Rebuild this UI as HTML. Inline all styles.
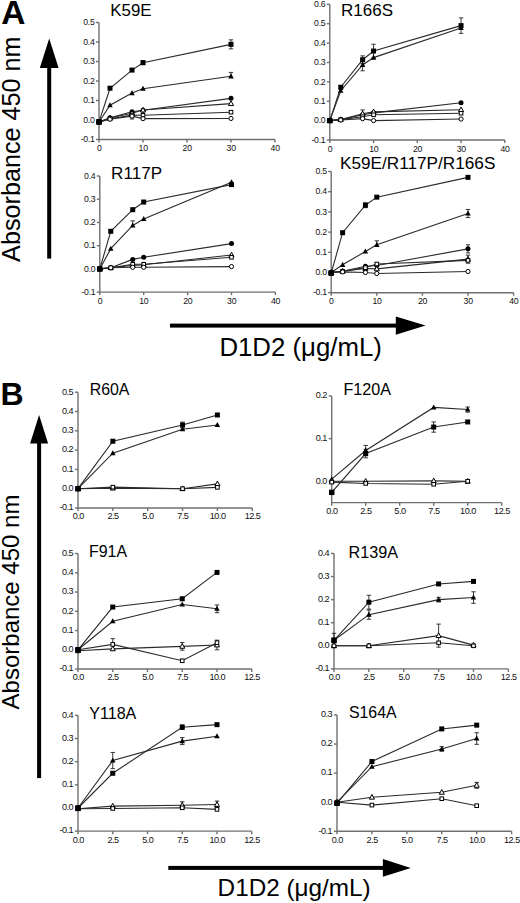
<!DOCTYPE html>
<html><head><meta charset="utf-8"><title>Figure</title>
<style>
html,body{margin:0;padding:0;background:#fff;}
body{width:520px;height:903px;overflow:hidden;}
svg{display:block;font-family:"Liberation Sans", sans-serif;}
</style></head>
<body>
<svg width="520" height="903" viewBox="0 0 520 903">
<rect width="520" height="903" fill="#fff"/>
<g stroke="#707070" stroke-width="1.4" fill="none">
<path d="M99,22.5 V139.5 H275"/>
<path d="M96,139.5 H99"/>
<path d="M96,120 H99"/>
<path d="M96,100.5 H99"/>
<path d="M96,81 H99"/>
<path d="M96,61.5 H99"/>
<path d="M96,42 H99"/>
<path d="M96,22.5 H99"/>
<path d="M99,139.5 V142.5"/>
<path d="M143,139.5 V142.5"/>
<path d="M187,139.5 V142.5"/>
<path d="M231,139.5 V142.5"/>
<path d="M275,139.5 V142.5"/>
</g>
<g fill="#111" font-size="8.7" letter-spacing="-0.3">
<text x="94.5" y="142.2" text-anchor="end">-0.1</text>
<text x="94.5" y="122.7" text-anchor="end">0.0</text>
<text x="94.5" y="103.2" text-anchor="end">0.1</text>
<text x="94.5" y="83.7" text-anchor="end">0.2</text>
<text x="94.5" y="64.2" text-anchor="end">0.3</text>
<text x="94.5" y="44.7" text-anchor="end">0.4</text>
<text x="94.5" y="25.2" text-anchor="end">0.5</text>
<text x="99.15" y="151.2" text-anchor="middle">0</text>
<text x="143.15" y="151.2" text-anchor="middle">10</text>
<text x="187.15" y="151.2" text-anchor="middle">20</text>
<text x="231.15" y="151.2" text-anchor="middle">30</text>
<text x="275.15" y="151.2" text-anchor="middle">40</text>
</g>
<text x="110.3" y="16.2" font-size="16.9" text-anchor="start" font-weight="normal" >K59E</text>
<polyline points="99,121.95 110,88.22 132,70.08 143,62.67 231,44.34" fill="none" stroke="#2a2a2a" stroke-width="1.1"/>
<polyline points="99,121.95 110,105.18 132,93.09 143,88.8 231,76.32" fill="none" stroke="#2a2a2a" stroke-width="1.1"/>
<polyline points="99,121.95 110,117.66 132,111.81 143,110.25 231,98.36" fill="none" stroke="#2a2a2a" stroke-width="1.1"/>
<polyline points="99,121.95 110,118.05 132,113.17 143,110.06 231,103.62" fill="none" stroke="#2a2a2a" stroke-width="1.1"/>
<polyline points="99,121.95 110,118.83 132,115.12 143,115.32 231,112.2" fill="none" stroke="#2a2a2a" stroke-width="1.1"/>
<polyline points="99,121.95 110,119.22 132,116.1 143,118.64 231,118.44" fill="none" stroke="#2a2a2a" stroke-width="1.1"/>
<path d="M143,60.72 V64.62 M140.8,60.72 H145.2 M140.8,64.62 H145.2" stroke="#222" stroke-width="0.9" fill="none"/>
<path d="M231,39.85 V48.83 M228.8,39.85 H233.2 M228.8,48.83 H233.2" stroke="#222" stroke-width="0.9" fill="none"/>
<path d="M231,72.42 V76.32 M228.8,72.42 H233.2" stroke="#222" stroke-width="0.9" fill="none"/>
<path d="M132,113.17 V119.03 M129.8,113.17 H134.2 M129.8,119.03 H134.2" stroke="#222" stroke-width="0.9" fill="none"/>
<circle cx="99" cy="121.95" r="2.5" fill="#000"/>
<circle cx="110" cy="117.66" r="2.5" fill="#000"/>
<circle cx="132" cy="111.81" r="2.5" fill="#000"/>
<circle cx="143" cy="110.25" r="2.5" fill="#000"/>
<circle cx="231" cy="98.36" r="2.5" fill="#000"/>
<polygon points="99,118.91 101.74,124.01 96.26,124.01" fill="#000"/>
<polygon points="110,102.14 112.74,107.24 107.26,107.24" fill="#000"/>
<polygon points="132,90.05 134.74,95.15 129.26,95.15" fill="#000"/>
<polygon points="143,85.76 145.74,90.86 140.26,90.86" fill="#000"/>
<polygon points="231,73.28 233.74,78.38 228.26,78.38" fill="#000"/>
<rect x="96.5" y="119.45" width="5" height="5" fill="#000"/>
<rect x="107.5" y="85.72" width="5" height="5" fill="#000"/>
<rect x="129.5" y="67.58" width="5" height="5" fill="#000"/>
<rect x="140.5" y="60.17" width="5" height="5" fill="#000"/>
<rect x="228.5" y="41.84" width="5" height="5" fill="#000"/>
<polygon points="99,119.17 101.53,123.87 96.47,123.87" fill="#fff" stroke="#000" stroke-width="1"/>
<polygon points="110,115.27 112.53,119.97 107.47,119.97" fill="#fff" stroke="#000" stroke-width="1"/>
<polygon points="132,110.39 134.53,115.1 129.47,115.1" fill="#fff" stroke="#000" stroke-width="1"/>
<polygon points="143,107.27 145.53,111.98 140.47,111.98" fill="#fff" stroke="#000" stroke-width="1"/>
<polygon points="231,100.84 233.53,105.54 228.47,105.54" fill="#fff" stroke="#000" stroke-width="1"/>
<rect x="97.2" y="120.15" width="3.6" height="3.6" fill="#fff" stroke="#000" stroke-width="1"/>
<rect x="108.2" y="117.03" width="3.6" height="3.6" fill="#fff" stroke="#000" stroke-width="1"/>
<rect x="130.2" y="113.33" width="3.6" height="3.6" fill="#fff" stroke="#000" stroke-width="1"/>
<rect x="141.2" y="113.52" width="3.6" height="3.6" fill="#fff" stroke="#000" stroke-width="1"/>
<rect x="229.2" y="110.4" width="3.6" height="3.6" fill="#fff" stroke="#000" stroke-width="1"/>
<circle cx="99" cy="121.95" r="2.1" fill="#fff" stroke="#000" stroke-width="1"/>
<circle cx="110" cy="119.22" r="2.1" fill="#fff" stroke="#000" stroke-width="1"/>
<circle cx="132" cy="116.1" r="2.1" fill="#fff" stroke="#000" stroke-width="1"/>
<circle cx="143" cy="118.64" r="2.1" fill="#fff" stroke="#000" stroke-width="1"/>
<circle cx="231" cy="118.44" r="2.1" fill="#fff" stroke="#000" stroke-width="1"/>
<rect x="96.35" y="119.3" width="5.3" height="5.3" fill="#000"/>
<g stroke="#707070" stroke-width="1.4" fill="none">
<path d="M329.8,4.32 V139.98 H504.8"/>
<path d="M326.8,139.98 H329.8"/>
<path d="M326.8,120.6 H329.8"/>
<path d="M326.8,101.22 H329.8"/>
<path d="M326.8,81.84 H329.8"/>
<path d="M326.8,62.46 H329.8"/>
<path d="M326.8,43.08 H329.8"/>
<path d="M326.8,23.7 H329.8"/>
<path d="M326.8,4.32 H329.8"/>
<path d="M329.8,139.98 V142.98"/>
<path d="M373.55,139.98 V142.98"/>
<path d="M417.3,139.98 V142.98"/>
<path d="M461.05,139.98 V142.98"/>
<path d="M504.8,139.98 V142.98"/>
</g>
<g fill="#111" font-size="8.7" letter-spacing="-0.3">
<text x="325.3" y="142.68" text-anchor="end">-0.1</text>
<text x="325.3" y="123.3" text-anchor="end">0.0</text>
<text x="325.3" y="103.92" text-anchor="end">0.1</text>
<text x="325.3" y="84.54" text-anchor="end">0.2</text>
<text x="325.3" y="65.16" text-anchor="end">0.3</text>
<text x="325.3" y="45.78" text-anchor="end">0.4</text>
<text x="325.3" y="26.4" text-anchor="end">0.5</text>
<text x="325.3" y="7.02" text-anchor="end">0.6</text>
<text x="329.95" y="151.68" text-anchor="middle">0</text>
<text x="373.7" y="151.68" text-anchor="middle">10</text>
<text x="417.45" y="151.68" text-anchor="middle">20</text>
<text x="461.2" y="151.68" text-anchor="middle">30</text>
<text x="504.95" y="151.68" text-anchor="middle">40</text>
</g>
<text x="341.1" y="15.5" font-size="17.0" text-anchor="start" font-weight="normal" >R166S</text>
<polyline points="329.8,120.6 340.74,87.27 362.61,59.75 373.55,51.03 461.05,25.64" fill="none" stroke="#2a2a2a" stroke-width="1.1"/>
<polyline points="329.8,120.6 340.74,90.75 362.61,64.98 373.55,57.61 461.05,27.96" fill="none" stroke="#2a2a2a" stroke-width="1.1"/>
<polyline points="329.8,120.6 340.74,119.63 362.61,114.79 373.55,112.85 461.05,102.77" fill="none" stroke="#2a2a2a" stroke-width="1.1"/>
<polyline points="329.8,120.6 340.74,119.63 362.61,113.82 373.55,111.88 461.05,109.75" fill="none" stroke="#2a2a2a" stroke-width="1.1"/>
<polyline points="329.8,120.6 340.74,119.63 362.61,116.72 373.55,114.79 461.05,113.24" fill="none" stroke="#2a2a2a" stroke-width="1.1"/>
<polyline points="329.8,120.6 340.74,120.02 362.61,118.66 373.55,120.6 461.05,119.05" fill="none" stroke="#2a2a2a" stroke-width="1.1"/>
<path d="M362.61,55.87 V63.62 M360.41,55.87 H364.81 M360.41,63.62 H364.81" stroke="#222" stroke-width="0.9" fill="none"/>
<path d="M373.55,44.24 V57.81 M371.35,44.24 H375.75 M371.35,57.81 H375.75" stroke="#222" stroke-width="0.9" fill="none"/>
<path d="M461.05,17.89 V33.39 M458.85,17.89 H463.25 M458.85,33.39 H463.25" stroke="#222" stroke-width="0.9" fill="none"/>
<path d="M362.61,59.17 V70.79 M360.41,59.17 H364.81 M360.41,70.79 H364.81" stroke="#222" stroke-width="0.9" fill="none"/>
<path d="M362.61,109.94 V117.69 M360.41,109.94 H364.81 M360.41,117.69 H364.81" stroke="#222" stroke-width="0.9" fill="none"/>
<circle cx="329.8" cy="120.6" r="2.5" fill="#000"/>
<circle cx="340.74" cy="119.63" r="2.5" fill="#000"/>
<circle cx="362.61" cy="114.79" r="2.5" fill="#000"/>
<circle cx="373.55" cy="112.85" r="2.5" fill="#000"/>
<circle cx="461.05" cy="102.77" r="2.5" fill="#000"/>
<polygon points="329.8,117.56 332.54,122.66 327.06,122.66" fill="#000"/>
<polygon points="340.74,87.72 343.48,92.81 337.99,92.81" fill="#000"/>
<polygon points="362.61,61.94 365.36,67.04 359.87,67.04" fill="#000"/>
<polygon points="373.55,54.58 376.29,59.67 370.81,59.67" fill="#000"/>
<polygon points="461.05,24.93 463.79,30.02 458.31,30.02" fill="#000"/>
<rect x="327.3" y="118.1" width="5" height="5" fill="#000"/>
<rect x="338.24" y="84.77" width="5" height="5" fill="#000"/>
<rect x="360.11" y="57.25" width="5" height="5" fill="#000"/>
<rect x="371.05" y="48.53" width="5" height="5" fill="#000"/>
<rect x="458.55" y="23.14" width="5" height="5" fill="#000"/>
<polygon points="329.8,117.82 332.33,122.52 327.27,122.52" fill="#fff" stroke="#000" stroke-width="1"/>
<polygon points="340.74,116.85 343.27,121.55 338.21,121.55" fill="#fff" stroke="#000" stroke-width="1"/>
<polygon points="362.61,111.03 365.14,115.74 360.08,115.74" fill="#fff" stroke="#000" stroke-width="1"/>
<polygon points="373.55,109.1 376.08,113.8 371.02,113.8" fill="#fff" stroke="#000" stroke-width="1"/>
<polygon points="461.05,106.96 463.58,111.67 458.52,111.67" fill="#fff" stroke="#000" stroke-width="1"/>
<rect x="328" y="118.8" width="3.6" height="3.6" fill="#fff" stroke="#000" stroke-width="1"/>
<rect x="338.94" y="117.83" width="3.6" height="3.6" fill="#fff" stroke="#000" stroke-width="1"/>
<rect x="360.81" y="114.92" width="3.6" height="3.6" fill="#fff" stroke="#000" stroke-width="1"/>
<rect x="371.75" y="112.99" width="3.6" height="3.6" fill="#fff" stroke="#000" stroke-width="1"/>
<rect x="459.25" y="111.44" width="3.6" height="3.6" fill="#fff" stroke="#000" stroke-width="1"/>
<circle cx="329.8" cy="120.6" r="2.1" fill="#fff" stroke="#000" stroke-width="1"/>
<circle cx="340.74" cy="120.02" r="2.1" fill="#fff" stroke="#000" stroke-width="1"/>
<circle cx="362.61" cy="118.66" r="2.1" fill="#fff" stroke="#000" stroke-width="1"/>
<circle cx="373.55" cy="120.6" r="2.1" fill="#fff" stroke="#000" stroke-width="1"/>
<circle cx="461.05" cy="119.05" r="2.1" fill="#fff" stroke="#000" stroke-width="1"/>
<rect x="327.15" y="117.95" width="5.3" height="5.3" fill="#000"/>
<g stroke="#707070" stroke-width="1.4" fill="none">
<path d="M99.8,176.02 V292.12 H275.4"/>
<path d="M96.8,292.12 H99.8"/>
<path d="M96.8,268.9 H99.8"/>
<path d="M96.8,245.68 H99.8"/>
<path d="M96.8,222.46 H99.8"/>
<path d="M96.8,199.24 H99.8"/>
<path d="M96.8,176.02 H99.8"/>
<path d="M99.8,292.12 V295.12"/>
<path d="M143.7,292.12 V295.12"/>
<path d="M187.6,292.12 V295.12"/>
<path d="M231.5,292.12 V295.12"/>
<path d="M275.4,292.12 V295.12"/>
</g>
<g fill="#111" font-size="8.7" letter-spacing="-0.3">
<text x="95.3" y="294.82" text-anchor="end">-0.1</text>
<text x="95.3" y="271.6" text-anchor="end">0.0</text>
<text x="95.3" y="248.38" text-anchor="end">0.1</text>
<text x="95.3" y="225.16" text-anchor="end">0.2</text>
<text x="95.3" y="201.94" text-anchor="end">0.3</text>
<text x="95.3" y="178.72" text-anchor="end">0.4</text>
<text x="99.95" y="303.82" text-anchor="middle">0</text>
<text x="143.85" y="303.82" text-anchor="middle">10</text>
<text x="187.75" y="303.82" text-anchor="middle">20</text>
<text x="231.65" y="303.82" text-anchor="middle">30</text>
<text x="275.55" y="303.82" text-anchor="middle">40</text>
</g>
<text x="111.1" y="178.5" font-size="17.1" text-anchor="start" font-weight="normal" >R117P</text>
<polyline points="99.8,268.9 110.77,231.28 132.72,209.69 143.7,202.03 231.5,184.61" fill="none" stroke="#2a2a2a" stroke-width="1.1"/>
<polyline points="99.8,268.9 110.77,248.7 132.72,225.48 143.7,218.98 231.5,182.29" fill="none" stroke="#2a2a2a" stroke-width="1.1"/>
<polyline points="99.8,268.9 110.77,267.74 132.72,259.38 143.7,257.29 231.5,243.59" fill="none" stroke="#2a2a2a" stroke-width="1.1"/>
<polyline points="99.8,268.9 110.77,267.74 132.72,265.42 143.7,264.72 231.5,254.97" fill="none" stroke="#2a2a2a" stroke-width="1.1"/>
<polyline points="99.8,268.9 110.77,267.74 132.72,264.26 143.7,264.26 231.5,257.29" fill="none" stroke="#2a2a2a" stroke-width="1.1"/>
<polyline points="99.8,268.9 110.77,267.74 132.72,267.27 143.7,267.27 231.5,266.58" fill="none" stroke="#2a2a2a" stroke-width="1.1"/>
<path d="M132.72,220.83 V225.48 M130.53,220.83 H134.92" stroke="#222" stroke-width="0.9" fill="none"/>
<circle cx="99.8" cy="268.9" r="2.5" fill="#000"/>
<circle cx="110.77" cy="267.74" r="2.5" fill="#000"/>
<circle cx="132.72" cy="259.38" r="2.5" fill="#000"/>
<circle cx="143.7" cy="257.29" r="2.5" fill="#000"/>
<circle cx="231.5" cy="243.59" r="2.5" fill="#000"/>
<polygon points="99.8,265.86 102.54,270.96 97.06,270.96" fill="#000"/>
<polygon points="110.77,245.66 113.52,250.76 108.03,250.76" fill="#000"/>
<polygon points="132.72,222.44 135.47,227.54 129.98,227.54" fill="#000"/>
<polygon points="143.7,215.94 146.44,221.03 140.96,221.03" fill="#000"/>
<polygon points="231.5,179.25 234.24,184.35 228.76,184.35" fill="#000"/>
<rect x="97.3" y="266.4" width="5" height="5" fill="#000"/>
<rect x="108.27" y="228.78" width="5" height="5" fill="#000"/>
<rect x="130.22" y="207.19" width="5" height="5" fill="#000"/>
<rect x="141.2" y="199.53" width="5" height="5" fill="#000"/>
<rect x="229" y="182.11" width="5" height="5" fill="#000"/>
<polygon points="99.8,266.12 102.33,270.82 97.27,270.82" fill="#fff" stroke="#000" stroke-width="1"/>
<polygon points="110.77,264.96 113.3,269.66 108.24,269.66" fill="#fff" stroke="#000" stroke-width="1"/>
<polygon points="132.72,262.63 135.25,267.34 130.19,267.34" fill="#fff" stroke="#000" stroke-width="1"/>
<polygon points="143.7,261.94 146.23,266.64 141.17,266.64" fill="#fff" stroke="#000" stroke-width="1"/>
<polygon points="231.5,252.19 234.03,256.89 228.97,256.89" fill="#fff" stroke="#000" stroke-width="1"/>
<rect x="98" y="267.1" width="3.6" height="3.6" fill="#fff" stroke="#000" stroke-width="1"/>
<rect x="108.97" y="265.94" width="3.6" height="3.6" fill="#fff" stroke="#000" stroke-width="1"/>
<rect x="130.92" y="262.46" width="3.6" height="3.6" fill="#fff" stroke="#000" stroke-width="1"/>
<rect x="141.9" y="262.46" width="3.6" height="3.6" fill="#fff" stroke="#000" stroke-width="1"/>
<rect x="229.7" y="255.49" width="3.6" height="3.6" fill="#fff" stroke="#000" stroke-width="1"/>
<circle cx="99.8" cy="268.9" r="2.1" fill="#fff" stroke="#000" stroke-width="1"/>
<circle cx="110.77" cy="267.74" r="2.1" fill="#fff" stroke="#000" stroke-width="1"/>
<circle cx="132.72" cy="267.27" r="2.1" fill="#fff" stroke="#000" stroke-width="1"/>
<circle cx="143.7" cy="267.27" r="2.1" fill="#fff" stroke="#000" stroke-width="1"/>
<circle cx="231.5" cy="266.58" r="2.1" fill="#fff" stroke="#000" stroke-width="1"/>
<rect x="97.15" y="266.25" width="5.3" height="5.3" fill="#000"/>
<g stroke="#707070" stroke-width="1.4" fill="none">
<path d="M331.2,171.5 V292.7 H513.6"/>
<path d="M328.2,292.7 H331.2"/>
<path d="M328.2,272.5 H331.2"/>
<path d="M328.2,252.3 H331.2"/>
<path d="M328.2,232.1 H331.2"/>
<path d="M328.2,211.9 H331.2"/>
<path d="M328.2,191.7 H331.2"/>
<path d="M328.2,171.5 H331.2"/>
<path d="M331.2,292.7 V295.7"/>
<path d="M376.8,292.7 V295.7"/>
<path d="M422.4,292.7 V295.7"/>
<path d="M468,292.7 V295.7"/>
<path d="M513.6,292.7 V295.7"/>
</g>
<g fill="#111" font-size="8.7" letter-spacing="-0.3">
<text x="326.7" y="295.4" text-anchor="end">-0.1</text>
<text x="326.7" y="275.2" text-anchor="end">0.0</text>
<text x="326.7" y="255" text-anchor="end">0.1</text>
<text x="326.7" y="234.8" text-anchor="end">0.2</text>
<text x="326.7" y="214.6" text-anchor="end">0.3</text>
<text x="326.7" y="194.4" text-anchor="end">0.4</text>
<text x="326.7" y="174.2" text-anchor="end">0.5</text>
<text x="331.35" y="304.4" text-anchor="middle">0</text>
<text x="376.95" y="304.4" text-anchor="middle">10</text>
<text x="422.55" y="304.4" text-anchor="middle">20</text>
<text x="468.15" y="304.4" text-anchor="middle">30</text>
<text x="513.75" y="304.4" text-anchor="middle">40</text>
</g>
<text transform="translate(340,168.7) scale(1.095,1)" font-size="15.7">K59E/R117P/R166S</text>
<polyline points="331.2,273.11 342.6,232.71 365.4,205.23 376.8,197.15 468,177.36" fill="none" stroke="#2a2a2a" stroke-width="1.1"/>
<polyline points="331.2,272.5 342.6,264.82 365.4,251.49 376.8,244.83 468,213.52" fill="none" stroke="#2a2a2a" stroke-width="1.1"/>
<polyline points="331.2,272.5 342.6,271.29 365.4,266.24 376.8,265.43 468,248.87" fill="none" stroke="#2a2a2a" stroke-width="1.1"/>
<polyline points="331.2,272.5 342.6,271.29 365.4,268.46 376.8,268.86 468,259.17" fill="none" stroke="#2a2a2a" stroke-width="1.1"/>
<polyline points="331.2,272.5 342.6,271.29 365.4,267.65 376.8,264.02 468,260.38" fill="none" stroke="#2a2a2a" stroke-width="1.1"/>
<polyline points="331.2,272.5 342.6,271.89 365.4,272.5 376.8,273.51 468,271.49" fill="none" stroke="#2a2a2a" stroke-width="1.1"/>
<path d="M365.4,202.81 V207.66 M363.2,202.81 H367.6 M363.2,207.66 H367.6" stroke="#222" stroke-width="0.9" fill="none"/>
<path d="M376.8,240.79 V244.83 M374.6,240.79 H379" stroke="#222" stroke-width="0.9" fill="none"/>
<path d="M468,209.48 V217.56 M465.8,209.48 H470.2 M465.8,217.56 H470.2" stroke="#222" stroke-width="0.9" fill="none"/>
<path d="M468,244.83 V252.91 M465.8,244.83 H470.2 M465.8,252.91 H470.2" stroke="#222" stroke-width="0.9" fill="none"/>
<path d="M468,255.13 V263.21 M465.8,255.13 H470.2 M465.8,263.21 H470.2" stroke="#222" stroke-width="0.9" fill="none"/>
<circle cx="331.2" cy="272.5" r="2.5" fill="#000"/>
<circle cx="342.6" cy="271.29" r="2.5" fill="#000"/>
<circle cx="365.4" cy="266.24" r="2.5" fill="#000"/>
<circle cx="376.8" cy="265.43" r="2.5" fill="#000"/>
<circle cx="468" cy="248.87" r="2.5" fill="#000"/>
<polygon points="331.2,269.46 333.94,274.56 328.46,274.56" fill="#000"/>
<polygon points="342.6,261.79 345.34,266.88 339.86,266.88" fill="#000"/>
<polygon points="365.4,248.45 368.14,253.55 362.66,253.55" fill="#000"/>
<polygon points="376.8,241.79 379.54,246.88 374.06,246.88" fill="#000"/>
<polygon points="468,210.48 470.74,215.57 465.26,215.57" fill="#000"/>
<rect x="328.7" y="270.61" width="5" height="5" fill="#000"/>
<rect x="340.1" y="230.21" width="5" height="5" fill="#000"/>
<rect x="362.9" y="202.73" width="5" height="5" fill="#000"/>
<rect x="374.3" y="194.65" width="5" height="5" fill="#000"/>
<rect x="465.5" y="174.86" width="5" height="5" fill="#000"/>
<polygon points="331.2,269.72 333.73,274.42 328.67,274.42" fill="#fff" stroke="#000" stroke-width="1"/>
<polygon points="342.6,268.5 345.13,273.21 340.07,273.21" fill="#fff" stroke="#000" stroke-width="1"/>
<polygon points="365.4,265.68 367.93,270.38 362.87,270.38" fill="#fff" stroke="#000" stroke-width="1"/>
<polygon points="376.8,266.08 379.33,270.79 374.27,270.79" fill="#fff" stroke="#000" stroke-width="1"/>
<polygon points="468,256.38 470.53,261.09 465.47,261.09" fill="#fff" stroke="#000" stroke-width="1"/>
<rect x="329.4" y="270.7" width="3.6" height="3.6" fill="#fff" stroke="#000" stroke-width="1"/>
<rect x="340.8" y="269.49" width="3.6" height="3.6" fill="#fff" stroke="#000" stroke-width="1"/>
<rect x="363.6" y="265.85" width="3.6" height="3.6" fill="#fff" stroke="#000" stroke-width="1"/>
<rect x="375" y="262.22" width="3.6" height="3.6" fill="#fff" stroke="#000" stroke-width="1"/>
<rect x="466.2" y="258.58" width="3.6" height="3.6" fill="#fff" stroke="#000" stroke-width="1"/>
<circle cx="331.2" cy="272.5" r="2.1" fill="#fff" stroke="#000" stroke-width="1"/>
<circle cx="342.6" cy="271.89" r="2.1" fill="#fff" stroke="#000" stroke-width="1"/>
<circle cx="365.4" cy="272.5" r="2.1" fill="#fff" stroke="#000" stroke-width="1"/>
<circle cx="376.8" cy="273.51" r="2.1" fill="#fff" stroke="#000" stroke-width="1"/>
<circle cx="468" cy="271.49" r="2.1" fill="#fff" stroke="#000" stroke-width="1"/>
<rect x="328.55" y="270.46" width="5.3" height="5.3" fill="#000"/>
<g stroke="#707070" stroke-width="1.4" fill="none">
<path d="M78,392.2 V508 H252.25"/>
<path d="M75,508 H78"/>
<path d="M75,488.7 H78"/>
<path d="M75,469.4 H78"/>
<path d="M75,450.1 H78"/>
<path d="M75,430.8 H78"/>
<path d="M75,411.5 H78"/>
<path d="M75,392.2 H78"/>
<path d="M78,508 V511"/>
<path d="M112.85,508 V511"/>
<path d="M147.7,508 V511"/>
<path d="M182.55,508 V511"/>
<path d="M217.4,508 V511"/>
<path d="M252.25,508 V511"/>
</g>
<g fill="#111" font-size="9.1" letter-spacing="-0.5">
<text x="73.1" y="510.3" text-anchor="end">-0.1</text>
<text x="73.1" y="491" text-anchor="end">0.0</text>
<text x="73.1" y="471.7" text-anchor="end">0.1</text>
<text x="73.1" y="452.4" text-anchor="end">0.2</text>
<text x="73.1" y="433.1" text-anchor="end">0.3</text>
<text x="73.1" y="413.8" text-anchor="end">0.4</text>
<text x="73.1" y="394.5" text-anchor="end">0.5</text>
<text x="78.25" y="519.4" text-anchor="middle">0.0</text>
<text x="113.1" y="519.4" text-anchor="middle">2.5</text>
<text x="147.95" y="519.4" text-anchor="middle">5.0</text>
<text x="182.8" y="519.4" text-anchor="middle">7.5</text>
<text x="217.65" y="519.4" text-anchor="middle">10.0</text>
<text x="252.5" y="519.4" text-anchor="middle">12.5</text>
</g>
<text x="89.7" y="394.9" font-size="15.9" text-anchor="start" font-weight="normal" >R60A</text>
<polyline points="78,488.7 112.85,441.22 182.55,425.01 217.4,414.97" fill="none" stroke="#2a2a2a" stroke-width="1.1"/>
<polyline points="78,488.7 112.85,453.19 182.55,429.26 217.4,425.01" fill="none" stroke="#2a2a2a" stroke-width="1.1"/>
<polyline points="78,488.7 112.85,488.12 182.55,488.7 217.4,483.88" fill="none" stroke="#2a2a2a" stroke-width="1.1"/>
<polyline points="78,488.7 112.85,487.16 182.55,488.7 217.4,487.35" fill="none" stroke="#2a2a2a" stroke-width="1.1"/>
<path d="M182.55,422.12 V427.9 M180.35,422.12 H184.75 M180.35,427.9 H184.75" stroke="#222" stroke-width="0.9" fill="none"/>
<polygon points="78,485.66 80.74,490.76 75.26,490.76" fill="#000"/>
<polygon points="112.85,450.15 115.59,455.25 110.11,455.25" fill="#000"/>
<polygon points="182.55,426.22 185.29,431.31 179.81,431.31" fill="#000"/>
<polygon points="217.4,421.97 220.14,427.07 214.66,427.07" fill="#000"/>
<rect x="75.5" y="486.2" width="5" height="5" fill="#000"/>
<rect x="110.35" y="438.72" width="5" height="5" fill="#000"/>
<rect x="180.05" y="422.51" width="5" height="5" fill="#000"/>
<rect x="214.9" y="412.47" width="5" height="5" fill="#000"/>
<polygon points="78,485.92 80.53,490.62 75.47,490.62" fill="#fff" stroke="#000" stroke-width="1"/>
<polygon points="112.85,485.34 115.38,490.04 110.32,490.04" fill="#fff" stroke="#000" stroke-width="1"/>
<polygon points="182.55,485.92 185.08,490.62 180.02,490.62" fill="#fff" stroke="#000" stroke-width="1"/>
<polygon points="217.4,481.09 219.93,485.8 214.87,485.8" fill="#fff" stroke="#000" stroke-width="1"/>
<rect x="76.2" y="486.9" width="3.6" height="3.6" fill="#fff" stroke="#000" stroke-width="1"/>
<rect x="111.05" y="485.36" width="3.6" height="3.6" fill="#fff" stroke="#000" stroke-width="1"/>
<rect x="180.75" y="486.9" width="3.6" height="3.6" fill="#fff" stroke="#000" stroke-width="1"/>
<rect x="215.6" y="485.55" width="3.6" height="3.6" fill="#fff" stroke="#000" stroke-width="1"/>
<rect x="75.35" y="486.05" width="5.3" height="5.3" fill="#000"/>
<g stroke="#707070" stroke-width="1.4" fill="none">
<path d="M331.7,395.9 V502.65 H501.7"/>
<path d="M328.7,481.3 H331.7"/>
<path d="M328.7,438.6 H331.7"/>
<path d="M328.7,395.9 H331.7"/>
<path d="M331.7,502.65 V505.65"/>
<path d="M365.7,502.65 V505.65"/>
<path d="M399.7,502.65 V505.65"/>
<path d="M433.7,502.65 V505.65"/>
<path d="M467.7,502.65 V505.65"/>
<path d="M501.7,502.65 V505.65"/>
</g>
<g fill="#111" font-size="9.1" letter-spacing="-0.5">
<text x="326.8" y="483.6" text-anchor="end">0.0</text>
<text x="326.8" y="440.9" text-anchor="end">0.1</text>
<text x="326.8" y="398.2" text-anchor="end">0.2</text>
<text x="331.95" y="514.05" text-anchor="middle">0.0</text>
<text x="365.95" y="514.05" text-anchor="middle">2.5</text>
<text x="399.95" y="514.05" text-anchor="middle">5.0</text>
<text x="433.95" y="514.05" text-anchor="middle">7.5</text>
<text x="467.95" y="514.05" text-anchor="middle">10.0</text>
<text x="501.95" y="514.05" text-anchor="middle">12.5</text>
</g>
<text x="343.5" y="395" font-size="16.1" text-anchor="start" font-weight="normal" >F120A</text>
<polyline points="331.7,492.4 365.7,453.55 433.7,427.07 467.7,421.95" fill="none" stroke="#2a2a2a" stroke-width="1.1"/>
<polyline points="331.7,479.17 365.7,450.56 433.7,407.43 467.7,409.56" fill="none" stroke="#2a2a2a" stroke-width="1.1"/>
<polyline points="331.7,481.3 365.7,481.3 433.7,480.87 467.7,481.3" fill="none" stroke="#2a2a2a" stroke-width="1.1"/>
<polyline points="331.7,482.15 365.7,483.44 433.7,484.29 467.7,481.3" fill="none" stroke="#2a2a2a" stroke-width="1.1"/>
<path d="M365.7,449.28 V457.81 M363.5,449.28 H367.9 M363.5,457.81 H367.9" stroke="#222" stroke-width="0.9" fill="none"/>
<path d="M433.7,421.95 V432.19 M431.5,421.95 H435.9 M431.5,432.19 H435.9" stroke="#222" stroke-width="0.9" fill="none"/>
<path d="M365.7,445.43 V455.68 M363.5,445.43 H367.9 M363.5,455.68 H367.9" stroke="#222" stroke-width="0.9" fill="none"/>
<path d="M467.7,407 V412.13 M465.5,407 H469.9 M465.5,412.13 H469.9" stroke="#222" stroke-width="0.9" fill="none"/>
<polygon points="331.7,476.13 334.44,481.22 328.96,481.22" fill="#000"/>
<polygon points="365.7,447.52 368.44,452.61 362.96,452.61" fill="#000"/>
<polygon points="433.7,404.39 436.44,409.49 430.96,409.49" fill="#000"/>
<polygon points="467.7,406.53 470.44,411.62 464.96,411.62" fill="#000"/>
<rect x="329.2" y="489.9" width="5" height="5" fill="#000"/>
<rect x="363.2" y="451.05" width="5" height="5" fill="#000"/>
<rect x="431.2" y="424.57" width="5" height="5" fill="#000"/>
<rect x="465.2" y="419.45" width="5" height="5" fill="#000"/>
<polygon points="331.7,478.52 334.23,483.22 329.17,483.22" fill="#fff" stroke="#000" stroke-width="1"/>
<polygon points="365.7,478.52 368.23,483.22 363.17,483.22" fill="#fff" stroke="#000" stroke-width="1"/>
<polygon points="433.7,478.09 436.23,482.8 431.17,482.8" fill="#fff" stroke="#000" stroke-width="1"/>
<polygon points="467.7,478.52 470.23,483.22 465.17,483.22" fill="#fff" stroke="#000" stroke-width="1"/>
<rect x="329.9" y="480.35" width="3.6" height="3.6" fill="#fff" stroke="#000" stroke-width="1"/>
<rect x="363.9" y="481.63" width="3.6" height="3.6" fill="#fff" stroke="#000" stroke-width="1"/>
<rect x="431.9" y="482.49" width="3.6" height="3.6" fill="#fff" stroke="#000" stroke-width="1"/>
<rect x="465.9" y="479.5" width="3.6" height="3.6" fill="#fff" stroke="#000" stroke-width="1"/>
<rect x="329.05" y="489.75" width="5.3" height="5.3" fill="#000"/>
<g stroke="#707070" stroke-width="1.4" fill="none">
<path d="M78,553.55 V669.05 H251.75"/>
<path d="M75,669.05 H78"/>
<path d="M75,649.8 H78"/>
<path d="M75,630.55 H78"/>
<path d="M75,611.3 H78"/>
<path d="M75,592.05 H78"/>
<path d="M75,572.8 H78"/>
<path d="M75,553.55 H78"/>
<path d="M78,669.05 V672.05"/>
<path d="M112.75,669.05 V672.05"/>
<path d="M147.5,669.05 V672.05"/>
<path d="M182.25,669.05 V672.05"/>
<path d="M217,669.05 V672.05"/>
<path d="M251.75,669.05 V672.05"/>
</g>
<g fill="#111" font-size="9.1" letter-spacing="-0.5">
<text x="73.1" y="671.35" text-anchor="end">-0.1</text>
<text x="73.1" y="652.1" text-anchor="end">0.0</text>
<text x="73.1" y="632.85" text-anchor="end">0.1</text>
<text x="73.1" y="613.6" text-anchor="end">0.2</text>
<text x="73.1" y="594.35" text-anchor="end">0.3</text>
<text x="73.1" y="575.1" text-anchor="end">0.4</text>
<text x="73.1" y="555.85" text-anchor="end">0.5</text>
<text x="78.25" y="680.45" text-anchor="middle">0.0</text>
<text x="113" y="680.45" text-anchor="middle">2.5</text>
<text x="147.75" y="680.45" text-anchor="middle">5.0</text>
<text x="182.5" y="680.45" text-anchor="middle">7.5</text>
<text x="217.25" y="680.45" text-anchor="middle">10.0</text>
<text x="252" y="680.45" text-anchor="middle">12.5</text>
</g>
<text x="89" y="556.5" font-size="15.9" text-anchor="start" font-weight="normal" >F91A</text>
<polyline points="78,649.8 112.75,607.06 182.25,598.79 217,572.41" fill="none" stroke="#2a2a2a" stroke-width="1.1"/>
<polyline points="78,649.8 112.75,621.31 182.25,604.56 217,608.8" fill="none" stroke="#2a2a2a" stroke-width="1.1"/>
<polyline points="78,649.8 112.75,644.41 182.25,660.77 217,642.68" fill="none" stroke="#2a2a2a" stroke-width="1.1"/>
<polyline points="78,650.76 112.75,648.84 182.25,646.33 217,644.99" fill="none" stroke="#2a2a2a" stroke-width="1.1"/>
<path d="M217,604.95 V612.65 M214.8,604.95 H219.2 M214.8,612.65 H219.2" stroke="#222" stroke-width="0.9" fill="none"/>
<path d="M112.75,638.63 V650.18 M110.55,638.63 H114.95 M110.55,650.18 H114.95" stroke="#222" stroke-width="0.9" fill="none"/>
<path d="M182.25,642.48 V650.18 M180.05,642.48 H184.45 M180.05,650.18 H184.45" stroke="#222" stroke-width="0.9" fill="none"/>
<path d="M217,640.17 V649.8 M214.8,640.17 H219.2 M214.8,649.8 H219.2" stroke="#222" stroke-width="0.9" fill="none"/>
<polygon points="78,646.76 80.74,651.86 75.26,651.86" fill="#000"/>
<polygon points="112.75,618.27 115.49,623.37 110.01,623.37" fill="#000"/>
<polygon points="182.25,601.52 184.99,606.62 179.51,606.62" fill="#000"/>
<polygon points="217,605.76 219.74,610.86 214.26,610.86" fill="#000"/>
<rect x="75.5" y="647.3" width="5" height="5" fill="#000"/>
<rect x="110.25" y="604.56" width="5" height="5" fill="#000"/>
<rect x="179.75" y="596.29" width="5" height="5" fill="#000"/>
<rect x="214.5" y="569.91" width="5" height="5" fill="#000"/>
<polygon points="78,647.98 80.53,652.69 75.47,652.69" fill="#fff" stroke="#000" stroke-width="1"/>
<polygon points="112.75,646.05 115.28,650.76 110.22,650.76" fill="#fff" stroke="#000" stroke-width="1"/>
<polygon points="182.25,643.55 184.78,648.26 179.72,648.26" fill="#fff" stroke="#000" stroke-width="1"/>
<polygon points="217,642.2 219.53,646.91 214.47,646.91" fill="#fff" stroke="#000" stroke-width="1"/>
<rect x="76.2" y="648" width="3.6" height="3.6" fill="#fff" stroke="#000" stroke-width="1"/>
<rect x="110.95" y="642.61" width="3.6" height="3.6" fill="#fff" stroke="#000" stroke-width="1"/>
<rect x="180.45" y="658.97" width="3.6" height="3.6" fill="#fff" stroke="#000" stroke-width="1"/>
<rect x="215.2" y="640.88" width="3.6" height="3.6" fill="#fff" stroke="#000" stroke-width="1"/>
<rect x="75.35" y="647.15" width="5.3" height="5.3" fill="#000"/>
<g stroke="#707070" stroke-width="1.4" fill="none">
<path d="M334,553.48 V668.88 H508.38"/>
<path d="M331,668.88 H334"/>
<path d="M331,645.8 H334"/>
<path d="M331,622.72 H334"/>
<path d="M331,599.64 H334"/>
<path d="M331,576.56 H334"/>
<path d="M331,553.48 H334"/>
<path d="M334,668.88 V671.88"/>
<path d="M368.88,668.88 V671.88"/>
<path d="M403.75,668.88 V671.88"/>
<path d="M438.62,668.88 V671.88"/>
<path d="M473.5,668.88 V671.88"/>
<path d="M508.38,668.88 V671.88"/>
</g>
<g fill="#111" font-size="9.1" letter-spacing="-0.5">
<text x="329.1" y="671.18" text-anchor="end">-0.1</text>
<text x="329.1" y="648.1" text-anchor="end">0.0</text>
<text x="329.1" y="625.02" text-anchor="end">0.1</text>
<text x="329.1" y="601.94" text-anchor="end">0.2</text>
<text x="329.1" y="578.86" text-anchor="end">0.3</text>
<text x="329.1" y="555.78" text-anchor="end">0.4</text>
<text x="334.25" y="680.28" text-anchor="middle">0.0</text>
<text x="369.12" y="680.28" text-anchor="middle">2.5</text>
<text x="404" y="680.28" text-anchor="middle">5.0</text>
<text x="438.88" y="680.28" text-anchor="middle">7.5</text>
<text x="473.75" y="680.28" text-anchor="middle">10.0</text>
<text x="508.62" y="680.28" text-anchor="middle">12.5</text>
</g>
<text x="348.5" y="557.5" font-size="16.2" text-anchor="start" font-weight="normal" >R139A</text>
<polyline points="334,640.26 368.88,602.18 438.62,583.95 473.5,581.41" fill="none" stroke="#2a2a2a" stroke-width="1.1"/>
<polyline points="334,640.26 368.88,614.64 438.62,599.64 473.5,597.56" fill="none" stroke="#2a2a2a" stroke-width="1.1"/>
<polyline points="334,645.8 368.88,645.8 438.62,635.64 473.5,645.11" fill="none" stroke="#2a2a2a" stroke-width="1.1"/>
<polyline points="334,645.8 368.88,645.8 438.62,642.8 473.5,645.8" fill="none" stroke="#2a2a2a" stroke-width="1.1"/>
<path d="M334,633.34 V647.18 M331.8,633.34 H336.2 M331.8,647.18 H336.2" stroke="#222" stroke-width="0.9" fill="none"/>
<path d="M368.88,595.25 V609.1 M366.68,595.25 H371.07 M366.68,609.1 H371.07" stroke="#222" stroke-width="0.9" fill="none"/>
<path d="M368.88,610.03 V619.26 M366.68,610.03 H371.07 M366.68,619.26 H371.07" stroke="#222" stroke-width="0.9" fill="none"/>
<path d="M438.62,597.33 V601.95 M436.43,597.33 H440.82 M436.43,601.95 H440.82" stroke="#222" stroke-width="0.9" fill="none"/>
<path d="M473.5,591.79 V603.33 M471.3,591.79 H475.7 M471.3,603.33 H475.7" stroke="#222" stroke-width="0.9" fill="none"/>
<path d="M438.62,624.1 V647.18 M436.43,624.1 H440.82 M436.43,647.18 H440.82" stroke="#222" stroke-width="0.9" fill="none"/>
<polygon points="334,637.22 336.74,642.32 331.26,642.32" fill="#000"/>
<polygon points="368.88,611.6 371.62,616.7 366.13,616.7" fill="#000"/>
<polygon points="438.62,596.6 441.37,601.7 435.88,601.7" fill="#000"/>
<polygon points="473.5,594.52 476.24,599.62 470.76,599.62" fill="#000"/>
<rect x="331.5" y="637.76" width="5" height="5" fill="#000"/>
<rect x="366.38" y="599.68" width="5" height="5" fill="#000"/>
<rect x="436.12" y="581.45" width="5" height="5" fill="#000"/>
<rect x="471" y="578.91" width="5" height="5" fill="#000"/>
<polygon points="334,643.02 336.53,647.72 331.47,647.72" fill="#fff" stroke="#000" stroke-width="1"/>
<polygon points="368.88,643.02 371.4,647.72 366.35,647.72" fill="#fff" stroke="#000" stroke-width="1"/>
<polygon points="438.62,632.86 441.15,637.57 436.1,637.57" fill="#fff" stroke="#000" stroke-width="1"/>
<polygon points="473.5,642.32 476.03,647.03 470.97,647.03" fill="#fff" stroke="#000" stroke-width="1"/>
<rect x="332.2" y="644" width="3.6" height="3.6" fill="#fff" stroke="#000" stroke-width="1"/>
<rect x="367.07" y="644" width="3.6" height="3.6" fill="#fff" stroke="#000" stroke-width="1"/>
<rect x="436.82" y="641" width="3.6" height="3.6" fill="#fff" stroke="#000" stroke-width="1"/>
<rect x="471.7" y="644" width="3.6" height="3.6" fill="#fff" stroke="#000" stroke-width="1"/>
<rect x="331.35" y="637.61" width="5.3" height="5.3" fill="#000"/>
<g stroke="#707070" stroke-width="1.4" fill="none">
<path d="M78,715.4 V831.15 H251.75"/>
<path d="M75,831.15 H78"/>
<path d="M75,808 H78"/>
<path d="M75,784.85 H78"/>
<path d="M75,761.7 H78"/>
<path d="M75,738.55 H78"/>
<path d="M75,715.4 H78"/>
<path d="M78,831.15 V834.15"/>
<path d="M112.75,831.15 V834.15"/>
<path d="M147.5,831.15 V834.15"/>
<path d="M182.25,831.15 V834.15"/>
<path d="M217,831.15 V834.15"/>
<path d="M251.75,831.15 V834.15"/>
</g>
<g fill="#111" font-size="9.1" letter-spacing="-0.5">
<text x="73.1" y="833.45" text-anchor="end">-0.1</text>
<text x="73.1" y="810.3" text-anchor="end">0.0</text>
<text x="73.1" y="787.15" text-anchor="end">0.1</text>
<text x="73.1" y="764" text-anchor="end">0.2</text>
<text x="73.1" y="740.85" text-anchor="end">0.3</text>
<text x="73.1" y="717.7" text-anchor="end">0.4</text>
<text x="78.25" y="842.55" text-anchor="middle">0.0</text>
<text x="113" y="842.55" text-anchor="middle">2.5</text>
<text x="147.75" y="842.55" text-anchor="middle">5.0</text>
<text x="182.5" y="842.55" text-anchor="middle">7.5</text>
<text x="217.25" y="842.55" text-anchor="middle">10.0</text>
<text x="252" y="842.55" text-anchor="middle">12.5</text>
</g>
<text x="89.2" y="718.5" font-size="16.1" text-anchor="start" font-weight="normal" >Y118A</text>
<polyline points="78,808 112.75,773.27 182.25,727.21 217,724.66" fill="none" stroke="#2a2a2a" stroke-width="1.1"/>
<polyline points="78,808 112.75,760.54 182.25,741.1 217,736.24" fill="none" stroke="#2a2a2a" stroke-width="1.1"/>
<polyline points="78,808.69 112.75,806.15 182.25,805.22 217,804.53" fill="none" stroke="#2a2a2a" stroke-width="1.1"/>
<polyline points="78,808.69 112.75,808.46 182.25,807.77 217,809.39" fill="none" stroke="#2a2a2a" stroke-width="1.1"/>
<path d="M182.25,724.89 V729.52 M180.05,724.89 H184.45 M180.05,729.52 H184.45" stroke="#222" stroke-width="0.9" fill="none"/>
<path d="M112.75,752.44 V768.64 M110.55,752.44 H114.95 M110.55,768.64 H114.95" stroke="#222" stroke-width="0.9" fill="none"/>
<path d="M182.25,737.62 V744.57 M180.05,737.62 H184.45 M180.05,744.57 H184.45" stroke="#222" stroke-width="0.9" fill="none"/>
<path d="M182.25,801.75 V808.69 M180.05,801.75 H184.45 M180.05,808.69 H184.45" stroke="#222" stroke-width="0.9" fill="none"/>
<path d="M217,801.05 V808 M214.8,801.05 H219.2 M214.8,808 H219.2" stroke="#222" stroke-width="0.9" fill="none"/>
<polygon points="78,804.96 80.74,810.06 75.26,810.06" fill="#000"/>
<polygon points="112.75,757.5 115.49,762.6 110.01,762.6" fill="#000"/>
<polygon points="182.25,738.06 184.99,743.15 179.51,743.15" fill="#000"/>
<polygon points="217,733.2 219.74,738.29 214.26,738.29" fill="#000"/>
<rect x="75.5" y="805.5" width="5" height="5" fill="#000"/>
<rect x="110.25" y="770.77" width="5" height="5" fill="#000"/>
<rect x="179.75" y="724.71" width="5" height="5" fill="#000"/>
<rect x="214.5" y="722.16" width="5" height="5" fill="#000"/>
<polygon points="78,805.91 80.53,810.62 75.47,810.62" fill="#fff" stroke="#000" stroke-width="1"/>
<polygon points="112.75,803.37 115.28,808.07 110.22,808.07" fill="#fff" stroke="#000" stroke-width="1"/>
<polygon points="182.25,802.44 184.78,807.14 179.72,807.14" fill="#fff" stroke="#000" stroke-width="1"/>
<polygon points="217,801.74 219.53,806.45 214.47,806.45" fill="#fff" stroke="#000" stroke-width="1"/>
<rect x="76.2" y="806.89" width="3.6" height="3.6" fill="#fff" stroke="#000" stroke-width="1"/>
<rect x="110.95" y="806.66" width="3.6" height="3.6" fill="#fff" stroke="#000" stroke-width="1"/>
<rect x="180.45" y="805.97" width="3.6" height="3.6" fill="#fff" stroke="#000" stroke-width="1"/>
<rect x="215.2" y="807.59" width="3.6" height="3.6" fill="#fff" stroke="#000" stroke-width="1"/>
<rect x="75.35" y="805.35" width="5.3" height="5.3" fill="#000"/>
<g stroke="#707070" stroke-width="1.4" fill="none">
<path d="M337,714.96 V831.28 H511.62"/>
<path d="M334,831.28 H337"/>
<path d="M334,802.2 H337"/>
<path d="M334,773.12 H337"/>
<path d="M334,744.04 H337"/>
<path d="M334,714.96 H337"/>
<path d="M337,831.28 V834.28"/>
<path d="M371.93,831.28 V834.28"/>
<path d="M406.85,831.28 V834.28"/>
<path d="M441.77,831.28 V834.28"/>
<path d="M476.7,831.28 V834.28"/>
<path d="M511.62,831.28 V834.28"/>
</g>
<g fill="#111" font-size="9.1" letter-spacing="-0.5">
<text x="332.1" y="833.58" text-anchor="end">-0.1</text>
<text x="332.1" y="804.5" text-anchor="end">0.0</text>
<text x="332.1" y="775.42" text-anchor="end">0.1</text>
<text x="332.1" y="746.34" text-anchor="end">0.2</text>
<text x="332.1" y="717.26" text-anchor="end">0.3</text>
<text x="337.25" y="842.68" text-anchor="middle">0.0</text>
<text x="372.18" y="842.68" text-anchor="middle">2.5</text>
<text x="407.1" y="842.68" text-anchor="middle">5.0</text>
<text x="442.02" y="842.68" text-anchor="middle">7.5</text>
<text x="476.95" y="842.68" text-anchor="middle">10.0</text>
<text x="511.88" y="842.68" text-anchor="middle">12.5</text>
</g>
<text x="348.9" y="718.3" font-size="15.9" text-anchor="start" font-weight="normal" >S164A</text>
<polyline points="337,803.36 371.93,761.49 441.77,728.92 476.7,725.14" fill="none" stroke="#2a2a2a" stroke-width="1.1"/>
<polyline points="337,802.2 371.93,766.72 441.77,748.98 476.7,738.51" fill="none" stroke="#2a2a2a" stroke-width="1.1"/>
<polyline points="337,802.2 371.93,797.26 441.77,792.31 476.7,785.33" fill="none" stroke="#2a2a2a" stroke-width="1.1"/>
<polyline points="337,802.2 371.93,805.11 441.77,798.71 476.7,805.69" fill="none" stroke="#2a2a2a" stroke-width="1.1"/>
<path d="M441.77,746.66 V751.31 M439.57,746.66 H443.97 M439.57,751.31 H443.97" stroke="#222" stroke-width="0.9" fill="none"/>
<path d="M476.7,732.7 V744.33 M474.5,732.7 H478.9 M474.5,744.33 H478.9" stroke="#222" stroke-width="0.9" fill="none"/>
<path d="M476.7,782.43 V788.24 M474.5,782.43 H478.9 M474.5,788.24 H478.9" stroke="#222" stroke-width="0.9" fill="none"/>
<polygon points="337,799.16 339.74,804.26 334.26,804.26" fill="#000"/>
<polygon points="371.93,763.68 374.67,768.78 369.18,768.78" fill="#000"/>
<polygon points="441.77,745.95 444.52,751.04 439.03,751.04" fill="#000"/>
<polygon points="476.7,735.48 479.44,740.57 473.96,740.57" fill="#000"/>
<rect x="334.5" y="800.86" width="5" height="5" fill="#000"/>
<rect x="369.43" y="758.99" width="5" height="5" fill="#000"/>
<rect x="439.27" y="726.42" width="5" height="5" fill="#000"/>
<rect x="474.2" y="722.64" width="5" height="5" fill="#000"/>
<polygon points="337,799.42 339.53,804.12 334.47,804.12" fill="#fff" stroke="#000" stroke-width="1"/>
<polygon points="371.93,794.47 374.45,799.18 369.4,799.18" fill="#fff" stroke="#000" stroke-width="1"/>
<polygon points="441.77,789.53 444.3,794.24 439.25,794.24" fill="#fff" stroke="#000" stroke-width="1"/>
<polygon points="476.7,782.55 479.23,787.26 474.17,787.26" fill="#fff" stroke="#000" stroke-width="1"/>
<rect x="335.2" y="800.4" width="3.6" height="3.6" fill="#fff" stroke="#000" stroke-width="1"/>
<rect x="370.12" y="803.31" width="3.6" height="3.6" fill="#fff" stroke="#000" stroke-width="1"/>
<rect x="439.97" y="796.91" width="3.6" height="3.6" fill="#fff" stroke="#000" stroke-width="1"/>
<rect x="474.9" y="803.89" width="3.6" height="3.6" fill="#fff" stroke="#000" stroke-width="1"/>
<rect x="334.35" y="800.71" width="5.3" height="5.3" fill="#000"/>
<text x="1.2" y="23.8" font-size="33.5" text-anchor="start" font-weight="bold" >A</text>
<text x="0.5" y="404.8" font-size="32.0" text-anchor="start" font-weight="bold" >B</text>
<polygon points="49.2,38.4 58.6,67.9 39.8,67.9" fill="#000"/>
<rect x="47.2" y="66.9" width="4" height="191.7" fill="#000"/>
<polygon points="39.1,415 48.1,443.4 30.1,443.4" fill="#000"/>
<rect x="37.1" y="442.4" width="4" height="335.7" fill="#000"/>
<rect x="170" y="323.6" width="226.8" height="4" fill="#000"/>
<polygon points="425.6,325.6 395.8,316.4 395.8,334.8" fill="#000"/>
<rect x="168.3" y="865.9" width="215.6" height="4" fill="#000"/>
<polygon points="410.8,867.9 382.9,859 382.9,876.8" fill="#000"/>
<text transform="translate(19.8,261.9) rotate(-90)" font-size="25.2">Absorbance 450 nm</text>
<text transform="translate(19.0,709.4) rotate(-90)" font-size="24.0">Absorbance 450 nm</text>
<text x="219.4" y="356" font-size="25.8" text-anchor="start" font-weight="normal" >D1D2 (μg/mL)</text>
<text x="217.6" y="896.2" font-size="24.3" text-anchor="start" font-weight="normal" >D1D2 (μg/mL)</text>
</svg>
</body></html>
